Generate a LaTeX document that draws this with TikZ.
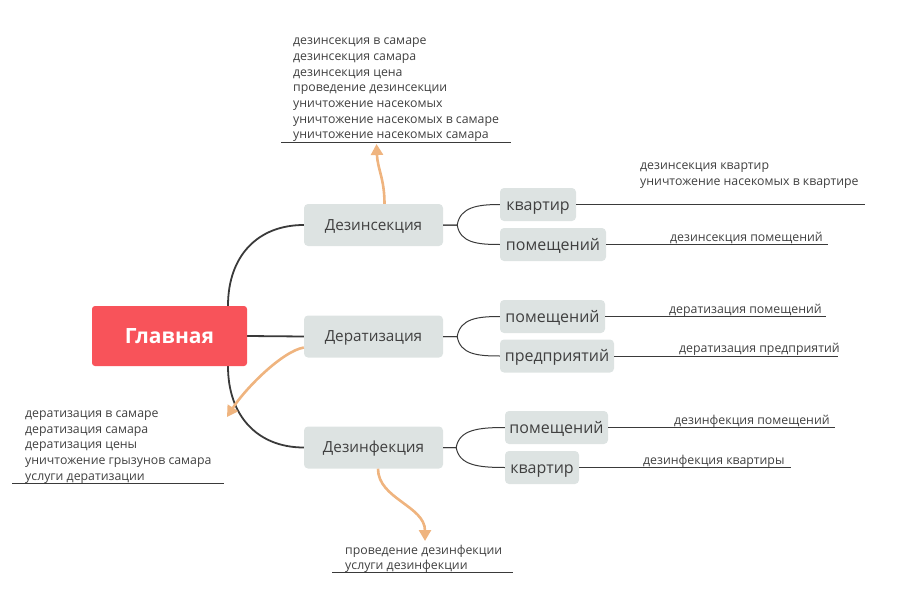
\documentclass[tikz,border=0pt]{standalone}
\usepackage{fontspec}
\setmainfont{Open Sans}
\usetikzlibrary{arrows.meta,backgrounds}
\definecolor{mainred}{HTML}{F8535A}
\definecolor{boxgray}{HTML}{DDE3E2}
\definecolor{txt}{HTML}{404040}
\definecolor{ln}{HTML}{3A3A3A}
\definecolor{org}{HTML}{EFB47F}
\begin{document}
\begin{tikzpicture}[x=1pt,y=-1pt,
 mainbox/.style={fill=mainred, rounded corners=3pt, text=white, font=\fontsize{21}{24}\selectfont\bfseries, minimum width=155pt, minimum height=60pt, inner sep=0},
 branch/.style={fill=boxgray, rounded corners=4pt, text=txt, font=\fontsize{15.3}{18}\selectfont, minimum width=139pt, minimum height=42pt, inner sep=0, text height=11pt, text depth=1pt},
 subbox/.style={fill=boxgray, rounded corners=4pt, text=txt, font=\fontsize{16}{19}\selectfont, minimum height=33pt, inner sep=0, text height=13pt, text depth=2pt},
 leaf/.style={text=txt, font=\fontsize{12.3}{15.65}\selectfont, inner sep=0, align=left},
 mainline/.style={draw=ln, line width=1.8pt},
 subline/.style={draw=ln, line width=1pt},
 under/.style={draw=ln, line width=0.9pt},
 orarrow/.style={draw=org, line width=2.6pt, -{Triangle[width=12pt,length=11pt]}}]
\useasboundingbox (0,0) rectangle (897,615);

% main nodes
\node[mainbox] (main) at (169.5,336) {Главная};
\node[branch] (dins) at (373.5,225) {Дезинсекция};
\node[branch] (drat) at (373.5,336.5) {Дератизация};
\node[branch] (dinf) at (373.5,447.5) {Дезинфекция};

% sub nodes
\node[subbox, minimum width=76pt] (s1) at (538,204.5) {квартир};
\node[subbox, minimum width=106pt] (s2) at (553,244.5) {помещений};
\node[subbox, minimum width=105pt] (s3) at (552.5,316.5) {помещений};
\node[subbox, minimum width=114pt] (s4) at (557,356) {предприятий};
\node[subbox, minimum width=103pt] (s5) at (556.5,427.5) {помещений};
\node[subbox, minimum width=74pt] (s6) at (542,467.5) {квартир};

% leaf texts
\node[leaf, anchor=north west] (t1) at (640,163) {дезинсекция квартир\\уничтожение насекомых в квартире};
\node[leaf, anchor=base west] (t2) at (670,241) {дезинсекция помещений};
\node[leaf, anchor=base west] (t3) at (669,313) {дератизация помещений};
\node[leaf, anchor=base west] (t4) at (679,352.5) {дератизация предприятий};
\node[leaf, anchor=base west] (t5) at (674,424.5) {дезинфекция помещений};
\node[leaf, anchor=base west] (t6) at (643,464) {дезинфекция квартиры};

\node[leaf, anchor=north west] (top) at (293,38) {дезинсекция в самаре\\дезинсекция самара\\дезинсекция цена\\проведение дезинсекции\\уничтожение насекомых\\уничтожение насекомых в самаре\\уничтожение насекомых самара};
\node[leaf, anchor=north west] (left) at (25,410.5) {дератизация в самаре\\дератизация самара\\дератизация цены\\уничтожение грызунов самара\\услуги дератизации};
\node[leaf, anchor=north west] (bot) at (345,544.5) {проведение дезинфекции\\услуги дезинфекции};

% coordinates
\coordinate (e1) at (865,204.5);
\coordinate (e2) at (828,244.5);
\coordinate (e3) at (826,316.5);
\coordinate (e4) at (838,356);
\coordinate (e5) at (835,427.5);
\coordinate (e6) at (791,467.5);
\coordinate (u1a) at (281,142);
\coordinate (u1b) at (511,142);
\coordinate (u2a) at (12,483);
\coordinate (u2b) at (224,483);
\coordinate (u3a) at (332,572);
\coordinate (u3b) at (513,572);
\coordinate (a1) at (376.5,144);
\coordinate (a2) at (227,417);
\coordinate (a3) at (425,541);

\begin{scope}[on background layer]
\draw[mainline] ([xshift=58.5pt]main.north) .. controls +(0,-50) and +(-46,0) .. (dins.west);
\draw[mainline] ([xshift=58.5pt]main.south) .. controls +(0,50) and +(-46,0) .. (dinf.west);
\draw[mainline] (main.east) -- (drat.west);
\end{scope}

% forks
\draw[subline] (dins.east) -- ++(14,0) .. controls +(3,-18) and +(-22,0) .. (s1.west);
\draw[subline] (dins.east) -- ++(14,0) .. controls +(3,18) and +(-22,0) .. (s2.west);
\draw[subline] (drat.east) -- ++(14,0) .. controls +(3,-18) and +(-22,0) .. (s3.west);
\draw[subline] (drat.east) -- ++(14,0) .. controls +(3,18) and +(-22,0) .. (s4.west);
\draw[subline] (dinf.east) -- ++(13,0) .. controls +(3,-18) and +(-26,0) .. (s5.west);
\draw[subline] (dinf.east) -- ++(13,0) .. controls +(3,18) and +(-26,0) .. (s6.west);

% leaf lines
\draw[subline] (s1.east) -- (e1);
\draw[subline] (s2.east) -- (e2);
\draw[subline] (s3.east) -- (e3);
\draw[subline] (s4.east) -- (e4);
\draw[subline] (s5.east) -- (e5);
\draw[subline] (s6.east) -- (e6);
\draw[under] (u1a) -- (u1b);
\draw[under] (u2a) -- (u2b);
\draw[under] (u3a) -- (u3b);

% orange arrows
\draw[orarrow] ([xshift=11pt]dins.north) .. controls +(0,-25) and +(1,25) .. (a1);
\draw[orarrow] ([yshift=-11pt]drat.west) .. controls +(-22,4) and +(18,-28) .. (a2);
\draw[orarrow] ([xshift=4.5pt]dinf.south) .. controls +(0,30) and +(0,-35) .. (a3);
\end{tikzpicture}
\end{document}
